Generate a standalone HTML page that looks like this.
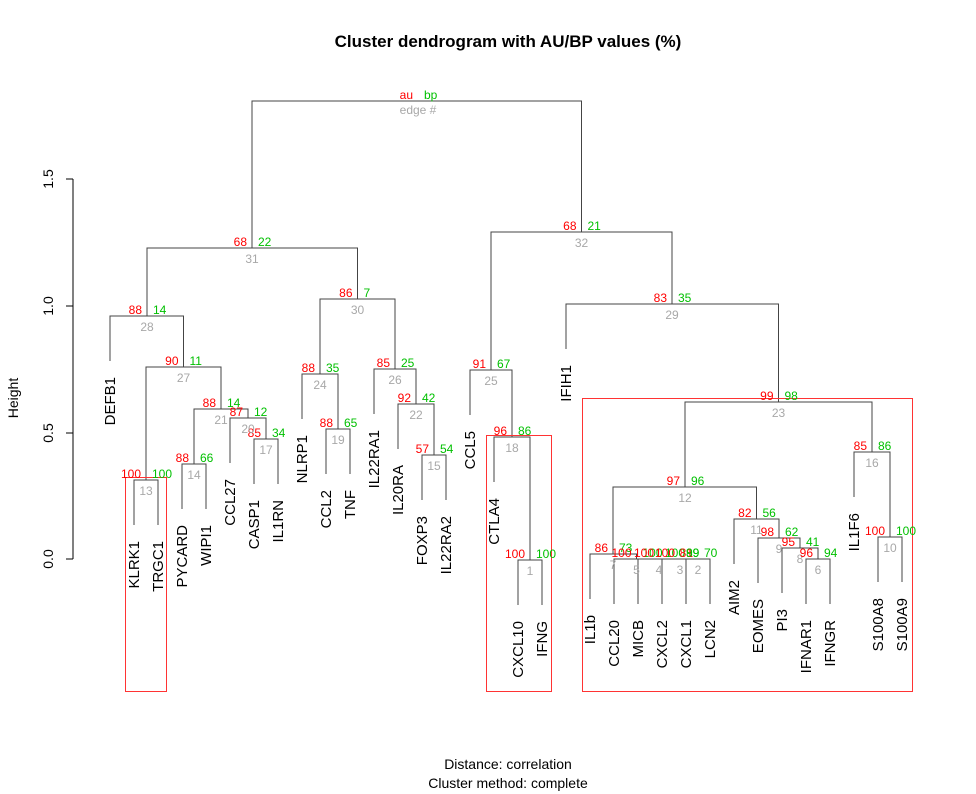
<!DOCTYPE html>
<html><head><meta charset="utf-8"><style>
html,body{margin:0;padding:0;background:#fff}
svg{display:block;font-family:"Liberation Sans",Arial,sans-serif}
.r{fill:#ff0000;font-size:12px;text-anchor:end}
.g{fill:#00c000;font-size:12px;text-anchor:start}
.e{fill:#a8a8a8;font-size:12px;text-anchor:middle}
.l{font-size:15px;text-anchor:end;fill:#000}
</style></head><body>
<svg width="976" height="794" viewBox="0 0 976 794">
<text x="508" y="47" text-anchor="middle" font-size="17" font-weight="bold">Cluster dendrogram with AU/BP values (%)</text>
<text x="508" y="769" text-anchor="middle" font-size="14">Distance:  correlation</text>
<text x="508" y="788" text-anchor="middle" font-size="14">Cluster method: complete</text>
<text transform="translate(18,398) rotate(-90)" text-anchor="middle" font-size="14">Height</text>
<g stroke="#000" stroke-width="1" fill="none">
<path d="M73,559V179M73,559H66M73,433H66M73,306H66M73,179H66"/>
</g>
<g font-size="14" text-anchor="middle">
<text transform="translate(53,559) rotate(-90)">0.0</text>
<text transform="translate(53,433) rotate(-90)">0.5</text>
<text transform="translate(53,306) rotate(-90)">1.0</text>
<text transform="translate(53,179) rotate(-90)">1.5</text>
</g>
<g stroke="#444" stroke-width="1" fill="none">
<path d="M134,525V480H158V525"/>
<path d="M182,509V464H206V509"/>
<path d="M254,484V439H278V484"/>
<path d="M230,463V418H266V439"/>
<path d="M194,464V409H248V418"/>
<path d="M146,480V367H221V409"/>
<path d="M110,361V316H183.5V367"/>
<path d="M326,474V429H350V474"/>
<path d="M302,419V374H338V429"/>
<path d="M422,500V455H446V500"/>
<path d="M398,449V404H434V455"/>
<path d="M374,414V369H416V404"/>
<path d="M320,374V299H395V369"/>
<path d="M147,316V248H357.5V299"/>
<path d="M518,605V560H542V605"/>
<path d="M494,482V437H530V560"/>
<path d="M470,415V370H512V437"/>
<path d="M686,604V559H710V604"/>
<path d="M662,604V559H698V559"/>
<path d="M638,604V559H680V559"/>
<path d="M614,604V559H659V559"/>
<path d="M590,599V554H636.5V559"/>
<path d="M806,604V559H830V604"/>
<path d="M782,593V548H818V559"/>
<path d="M758,583V538H800V548"/>
<path d="M734,564V519H779V538"/>
<path d="M613,554V487H756.5V519"/>
<path d="M878,582V537H902V582"/>
<path d="M854,497V452H890V537"/>
<path d="M685,487V402H872V452"/>
<path d="M566,349V304H778.5V402"/>
<path d="M491,370V232H672V304"/>
<path d="M252,248V101H581.5V232"/>
</g>
<g stroke="#ff3333" stroke-width="1" fill="none">
<rect x="125.5" y="477.5" width="41" height="214"/>
<rect x="486.5" y="435.5" width="65" height="256"/>
<rect x="582.5" y="398.5" width="330" height="293"/>
</g>
<text class="r" x="413" y="99">au</text><text class="g" x="424" y="99">bp</text><text class="e" x="418" y="114">edge #</text>
<text class="r" x="141" y="478">100</text><text class="g" x="152" y="478">100</text><text class="e" x="146" y="495">13</text>
<text class="r" x="189" y="462">88</text><text class="g" x="200" y="462">66</text><text class="e" x="194" y="479">14</text>
<text class="r" x="261" y="437">85</text><text class="g" x="272" y="437">34</text><text class="e" x="266" y="454">17</text>
<text class="r" x="243" y="416">87</text><text class="g" x="254" y="416">12</text><text class="e" x="248" y="433">20</text>
<text class="r" x="216" y="407">88</text><text class="g" x="227" y="407">14</text><text class="e" x="221" y="424">21</text>
<text class="r" x="178.5" y="365">90</text><text class="g" x="189.5" y="365">11</text><text class="e" x="183.5" y="382">27</text>
<text class="r" x="142" y="314">88</text><text class="g" x="153" y="314">14</text><text class="e" x="147" y="331">28</text>
<text class="r" x="333" y="427">88</text><text class="g" x="344" y="427">65</text><text class="e" x="338" y="444">19</text>
<text class="r" x="315" y="372">88</text><text class="g" x="326" y="372">35</text><text class="e" x="320" y="389">24</text>
<text class="r" x="429" y="453">57</text><text class="g" x="440" y="453">54</text><text class="e" x="434" y="470">15</text>
<text class="r" x="411" y="402">92</text><text class="g" x="422" y="402">42</text><text class="e" x="416" y="419">22</text>
<text class="r" x="390" y="367">85</text><text class="g" x="401" y="367">25</text><text class="e" x="395" y="384">26</text>
<text class="r" x="352.5" y="297">86</text><text class="g" x="363.5" y="297">7</text><text class="e" x="357.5" y="314">30</text>
<text class="r" x="247" y="246">68</text><text class="g" x="258" y="246">22</text><text class="e" x="252" y="263">31</text>
<text class="r" x="525" y="558">100</text><text class="g" x="536" y="558">100</text><text class="e" x="530" y="575">1</text>
<text class="r" x="507" y="435">96</text><text class="g" x="518" y="435">86</text><text class="e" x="512" y="452">18</text>
<text class="r" x="486" y="368">91</text><text class="g" x="497" y="368">67</text><text class="e" x="491" y="385">25</text>
<text class="r" x="576.5" y="230">68</text><text class="g" x="587.5" y="230">21</text><text class="e" x="581.5" y="247">32</text>
<text class="r" x="667" y="302">83</text><text class="g" x="678" y="302">35</text><text class="e" x="672" y="319">29</text>
<text class="r" x="773.5" y="400">99</text><text class="g" x="784.5" y="400">98</text><text class="e" x="778.5" y="417">23</text>
<text class="r" x="680" y="485">97</text><text class="g" x="691" y="485">96</text><text class="e" x="685" y="502">12</text>
<text class="r" x="751.5" y="517">82</text><text class="g" x="762.5" y="517">56</text><text class="e" x="756.5" y="534">11</text>
<text class="r" x="774" y="536">98</text><text class="g" x="785" y="536">62</text><text class="e" x="779" y="553">9</text>
<text class="r" x="795" y="546">95</text><text class="g" x="806" y="546">41</text><text class="e" x="800" y="563">8</text>
<text class="r" x="813" y="557">96</text><text class="g" x="824" y="557">94</text><text class="e" x="818" y="574">6</text>
<text class="r" x="867" y="450">85</text><text class="g" x="878" y="450">86</text><text class="e" x="872" y="467">16</text>
<text class="r" x="885" y="535">100</text><text class="g" x="896" y="535">100</text><text class="e" x="890" y="552">10</text>
<text class="r" x="608" y="552">86</text><text class="g" x="619" y="552">73</text><text class="e" x="613" y="569">7</text>
<text class="r" x="631.5" y="557">100</text><text class="g" x="642.5" y="557">100</text><text class="e" x="636.5" y="574">5</text>
<text class="r" x="654" y="557">100</text><text class="g" x="665" y="557">100</text><text class="e" x="659" y="574">4</text>
<text class="r" x="675" y="557">100</text><text class="g" x="686" y="557">89</text><text class="e" x="680" y="574">3</text>
<text class="r" x="693" y="557">81</text><text class="g" x="686" y="557">99</text><text class="g" x="704" y="557">70</text><text class="e" x="698" y="574">2</text>
<text class="l" transform="translate(115,377) rotate(-90)">DEFB1</text>
<text class="l" transform="translate(139,541) rotate(-90)">KLRK1</text>
<text class="l" transform="translate(163,541) rotate(-90)">TRGC1</text>
<text class="l" transform="translate(187,525) rotate(-90)">PYCARD</text>
<text class="l" transform="translate(211,525) rotate(-90)">WIPI1</text>
<text class="l" transform="translate(235,479) rotate(-90)">CCL27</text>
<text class="l" transform="translate(259,500) rotate(-90)">CASP1</text>
<text class="l" transform="translate(283,500) rotate(-90)">IL1RN</text>
<text class="l" transform="translate(307,435) rotate(-90)">NLRP1</text>
<text class="l" transform="translate(331,490) rotate(-90)">CCL2</text>
<text class="l" transform="translate(355,490) rotate(-90)">TNF</text>
<text class="l" transform="translate(379,430) rotate(-90)">IL22RA1</text>
<text class="l" transform="translate(403,465) rotate(-90)">IL20RA</text>
<text class="l" transform="translate(427,516) rotate(-90)">FOXP3</text>
<text class="l" transform="translate(451,516) rotate(-90)">IL22RA2</text>
<text class="l" transform="translate(475,431) rotate(-90)">CCL5</text>
<text class="l" transform="translate(499,498) rotate(-90)">CTLA4</text>
<text class="l" transform="translate(523,621) rotate(-90)">CXCL10</text>
<text class="l" transform="translate(547,621) rotate(-90)">IFNG</text>
<text class="l" transform="translate(571,365) rotate(-90)">IFIH1</text>
<text class="l" transform="translate(595,615) rotate(-90)">IL1b</text>
<text class="l" transform="translate(619,620) rotate(-90)">CCL20</text>
<text class="l" transform="translate(643,620) rotate(-90)">MICB</text>
<text class="l" transform="translate(667,620) rotate(-90)">CXCL2</text>
<text class="l" transform="translate(691,620) rotate(-90)">CXCL1</text>
<text class="l" transform="translate(715,620) rotate(-90)">LCN2</text>
<text class="l" transform="translate(739,580) rotate(-90)">AIM2</text>
<text class="l" transform="translate(763,599) rotate(-90)">EOMES</text>
<text class="l" transform="translate(787,609) rotate(-90)">PI3</text>
<text class="l" transform="translate(811,620) rotate(-90)">IFNAR1</text>
<text class="l" transform="translate(835,620) rotate(-90)">IFNGR</text>
<text class="l" transform="translate(859,513) rotate(-90)">IL1F6</text>
<text class="l" transform="translate(883,598) rotate(-90)">S100A8</text>
<text class="l" transform="translate(907,598) rotate(-90)">S100A9</text>
</svg>
</body></html>
